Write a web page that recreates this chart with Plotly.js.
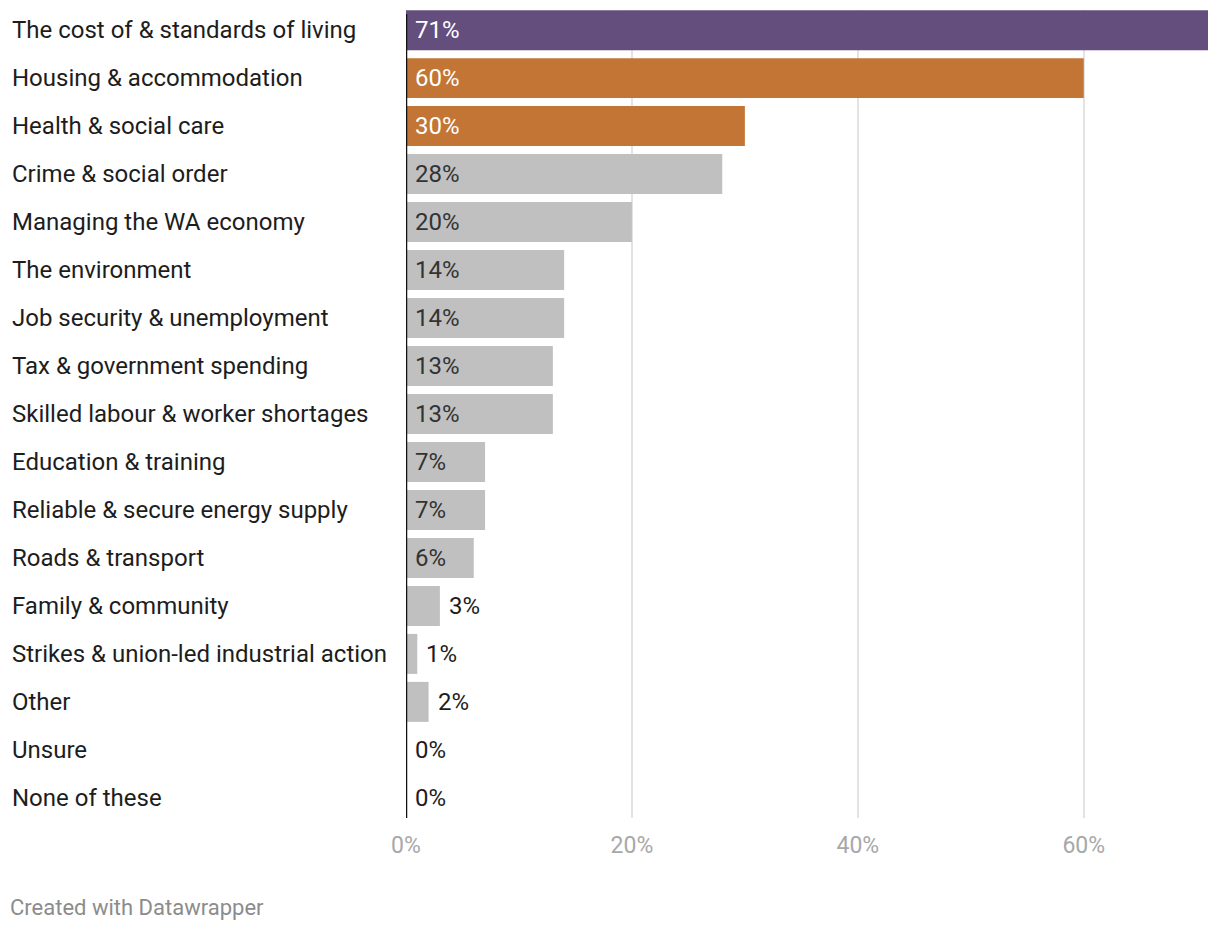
<!DOCTYPE html>
<html>
<head>
<meta charset="utf-8">
<script src="https://cdn.plot.ly/plotly-3.0.1.min.js"></script>
<style>html,body{margin:0;padding:0;background:#fff;}#chart{width:1220px;height:930px;}</style>
</head>
<body>
<div id="chart"></div>
<script>
const categories = [
  "The cost of & standards of living",
  "Housing & accommodation",
  "Health & social care",
  "Crime & social order",
  "Managing the WA economy",
  "The environment",
  "Job security & unemployment",
  "Tax & government spending",
  "Skilled labour & worker shortages",
  "Education & training",
  "Reliable & secure energy supply",
  "Roads & transport",
  "Family & community",
  "Strikes & union-led industrial action",
  "Other",
  "Unsure",
  "None of these"
];
const values = [71, 60, 30, 28, 20, 14, 14, 13, 13, 7, 7, 6, 3, 1, 2, 0, 0];
const tickValues = [0, 20, 40, 60];
const tickLabels = ["0%", "20%", "40%", "60%"];
const footer = "Created with Datawrapper";

const PURPLE = "#634e7e", ORANGE = "#c27535", GRAY = "#c0c0c0";
const colorFor = (i) => i === 0 ? PURPLE : (i <= 2 ? ORANGE : GRAY);
const FONT = "Roboto, 'Open Sans', sans-serif";

const annotations = [];
categories.forEach((c, i) => {
  annotations.push({
    xref: "paper", yref: "y", x: 0, y: c, xshift: -396,
    xanchor: "left", yanchor: "middle", showarrow: false,
    text: c, font: {family: FONT, size: 24, color: "#1d1d1d"}
  });
  const v = values[i];
  const inside = v >= 5;
  annotations.push({
    xref: "x", yref: "y", x: inside ? 0 : v, y: c, xshift: 7,
    xanchor: "left", yanchor: "middle", showarrow: false,
    text: v + "%",
    font: {family: FONT, size: 24, color: inside ? (i <= 2 ? "#ffffff" : "#333333") : "#1d1d1d"}
  });
});
annotations.push({
  xref: "paper", yref: "paper", x: 0, y: 0, xshift: -398, yshift: -89,
  xanchor: "left", yanchor: "middle", showarrow: false,
  text: footer, font: {family: FONT, size: 22, color: "#8c8c8c"}
});

const trace = {
  type: "bar", orientation: "h",
  x: values, y: categories,
  marker: {color: categories.map((_, i) => colorFor(i))},
  hoverinfo: "none", cliponaxis: false
};

const layout = {
  width: 1220, height: 930,
  margin: {l: 406, r: 12, t: 10, b: 112},
  paper_bgcolor: "#fff", plot_bgcolor: "#fff",
  bargap: 0.1667,
  showlegend: false,
  font: {family: FONT},
  xaxis: {
    range: [0, 71], tickvals: tickValues, ticktext: tickLabels,
    showgrid: true, gridcolor: "#e3e3e3", gridwidth: 2,
    zeroline: false, showline: false, ticks: "",
    ticklabelstandoff: 11,
    tickfont: {family: FONT, size: 23, color: "#a8a8a8"}
  },
  yaxis: {
    type: "category", range: [16.42, -0.42],
    showticklabels: false, showgrid: false, zeroline: false, ticks: ""
  },
  shapes: [{
    type: "line", xref: "x", yref: "paper", x0: 0, x1: 0, y0: 0, y1: 0.995,
    layer: "above",
    line: {color: "#111", width: 2.5}
  }],
  annotations: annotations
};

Plotly.newPlot("chart", [trace], layout, {staticPlot: true, displayModeBar: false});
</script>
</body>
</html>
